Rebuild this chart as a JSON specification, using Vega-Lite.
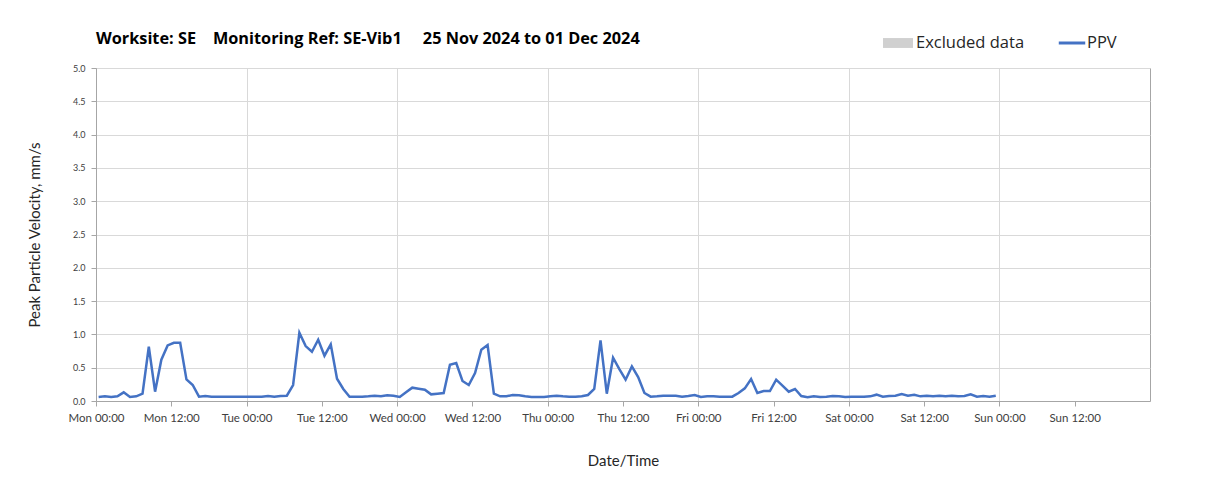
{
  "$schema": "https://vega.github.io/schema/vega-lite/v6.json",
  "autosize": {"type": "none"},
  "width": 1054,
  "height": 333,
  "padding": {"left": 96, "top": 68, "right": 58, "bottom": 91},
  "background": "white",
  "title": {
    "text": "Worksite: SE\u00a0\u00a0\u00a0\u00a0Monitoring Ref: SE-Vib1\u00a0\u00a0\u00a0\u00a0\u00a025 Nov 2024 to 01 Dec 2024",
    "anchor": "start",
    "frame": "group",
    "offset": -19,
    "font": "Open Sans",
    "fontSize": 16.3,
    "fontWeight": "bold",
    "color": "#000000"
  },
  "config": {
    "view": {"stroke": "#a6a6a6", "strokeWidth": 1},
    "axis": {
      "labelFont": "Lato",
      "titleFont": "Lato",
      "labelColor": "#404040",
      "titleColor": "#262626",
      "titleFontWeight": "normal",
      "gridColor": "#d9d9d9",
      "domainColor": "#a6a6a6",
      "tickColor": "#a6a6a6"
    },
    "legend": {"labelFont": "Open Sans", "labelFontSize": 16.5, "labelColor": "#262626"}
  },
  "layer": [
    {
      "data": {"values": []},
      "mark": {"type": "rect"},
      "encoding": {
        "fill": {
          "datum": "Excluded data",
          "type": "nominal",
          "scale": {"domain": ["Excluded data"], "range": ["#d0d0d0"]},
          "legend": {
            "title": null,
            "orient": "none",
            "legendX": 787,
            "legendY": -40,
            "symbolType": "M-1,-0.33H1V0.33H-1Z",
            "symbolSize": 900,
            "symbolStrokeWidth": 0,
            "labelOffset": 3
          }
        }
      }
    },
    {
      "data": {
        "values": [
          {"t": "2024-11-25T00:25:00Z", "v": 0.06},
          {"t": "2024-11-25T01:25:00Z", "v": 0.07},
          {"t": "2024-11-25T02:25:00Z", "v": 0.06},
          {"t": "2024-11-25T03:25:00Z", "v": 0.07},
          {"t": "2024-11-25T04:25:00Z", "v": 0.13},
          {"t": "2024-11-25T05:25:00Z", "v": 0.06},
          {"t": "2024-11-25T06:25:00Z", "v": 0.07},
          {"t": "2024-11-25T07:25:00Z", "v": 0.11},
          {"t": "2024-11-25T08:25:00Z", "v": 0.815},
          {"t": "2024-11-25T09:25:00Z", "v": 0.14},
          {"t": "2024-11-25T10:25:00Z", "v": 0.62},
          {"t": "2024-11-25T11:25:00Z", "v": 0.835},
          {"t": "2024-11-25T12:25:00Z", "v": 0.875},
          {"t": "2024-11-25T13:25:00Z", "v": 0.875},
          {"t": "2024-11-25T14:25:00Z", "v": 0.325},
          {"t": "2024-11-25T15:25:00Z", "v": 0.24},
          {"t": "2024-11-25T16:25:00Z", "v": 0.065},
          {"t": "2024-11-25T17:25:00Z", "v": 0.075},
          {"t": "2024-11-25T18:25:00Z", "v": 0.065},
          {"t": "2024-11-25T19:25:00Z", "v": 0.065},
          {"t": "2024-11-25T20:25:00Z", "v": 0.065},
          {"t": "2024-11-25T21:25:00Z", "v": 0.065},
          {"t": "2024-11-25T22:25:00Z", "v": 0.065},
          {"t": "2024-11-25T23:25:00Z", "v": 0.065},
          {"t": "2024-11-26T00:25:00Z", "v": 0.065},
          {"t": "2024-11-26T01:25:00Z", "v": 0.065},
          {"t": "2024-11-26T02:25:00Z", "v": 0.065},
          {"t": "2024-11-26T03:25:00Z", "v": 0.075},
          {"t": "2024-11-26T04:25:00Z", "v": 0.065},
          {"t": "2024-11-26T05:25:00Z", "v": 0.075},
          {"t": "2024-11-26T06:25:00Z", "v": 0.08},
          {"t": "2024-11-26T07:25:00Z", "v": 0.24},
          {"t": "2024-11-26T08:25:00Z", "v": 1.025},
          {"t": "2024-11-26T09:25:00Z", "v": 0.825},
          {"t": "2024-11-26T10:25:00Z", "v": 0.74},
          {"t": "2024-11-26T11:25:00Z", "v": 0.92},
          {"t": "2024-11-26T12:25:00Z", "v": 0.68},
          {"t": "2024-11-26T13:25:00Z", "v": 0.85},
          {"t": "2024-11-26T14:25:00Z", "v": 0.335},
          {"t": "2024-11-26T15:25:00Z", "v": 0.18},
          {"t": "2024-11-26T16:25:00Z", "v": 0.065},
          {"t": "2024-11-26T17:25:00Z", "v": 0.065},
          {"t": "2024-11-26T18:25:00Z", "v": 0.065},
          {"t": "2024-11-26T19:25:00Z", "v": 0.07},
          {"t": "2024-11-26T20:25:00Z", "v": 0.08},
          {"t": "2024-11-26T21:25:00Z", "v": 0.07},
          {"t": "2024-11-26T22:25:00Z", "v": 0.085},
          {"t": "2024-11-26T23:25:00Z", "v": 0.08},
          {"t": "2024-11-27T00:25:00Z", "v": 0.06},
          {"t": "2024-11-27T01:25:00Z", "v": 0.13},
          {"t": "2024-11-27T02:25:00Z", "v": 0.2},
          {"t": "2024-11-27T03:25:00Z", "v": 0.185},
          {"t": "2024-11-27T04:25:00Z", "v": 0.17},
          {"t": "2024-11-27T05:25:00Z", "v": 0.1},
          {"t": "2024-11-27T06:25:00Z", "v": 0.11},
          {"t": "2024-11-27T07:25:00Z", "v": 0.12},
          {"t": "2024-11-27T08:25:00Z", "v": 0.545},
          {"t": "2024-11-27T09:25:00Z", "v": 0.57},
          {"t": "2024-11-27T10:25:00Z", "v": 0.3},
          {"t": "2024-11-27T11:25:00Z", "v": 0.24},
          {"t": "2024-11-27T12:25:00Z", "v": 0.42},
          {"t": "2024-11-27T13:25:00Z", "v": 0.77},
          {"t": "2024-11-27T14:25:00Z", "v": 0.84},
          {"t": "2024-11-27T15:25:00Z", "v": 0.11},
          {"t": "2024-11-27T16:25:00Z", "v": 0.07},
          {"t": "2024-11-27T17:25:00Z", "v": 0.07},
          {"t": "2024-11-27T18:25:00Z", "v": 0.09},
          {"t": "2024-11-27T19:25:00Z", "v": 0.085},
          {"t": "2024-11-27T20:25:00Z", "v": 0.07},
          {"t": "2024-11-27T21:25:00Z", "v": 0.06},
          {"t": "2024-11-27T22:25:00Z", "v": 0.06},
          {"t": "2024-11-27T23:25:00Z", "v": 0.06},
          {"t": "2024-11-28T00:25:00Z", "v": 0.07},
          {"t": "2024-11-28T01:25:00Z", "v": 0.08},
          {"t": "2024-11-28T02:25:00Z", "v": 0.07},
          {"t": "2024-11-28T03:25:00Z", "v": 0.065},
          {"t": "2024-11-28T04:25:00Z", "v": 0.065},
          {"t": "2024-11-28T05:25:00Z", "v": 0.07},
          {"t": "2024-11-28T06:25:00Z", "v": 0.09},
          {"t": "2024-11-28T07:25:00Z", "v": 0.18},
          {"t": "2024-11-28T08:25:00Z", "v": 0.91},
          {"t": "2024-11-28T09:25:00Z", "v": 0.11},
          {"t": "2024-11-28T10:25:00Z", "v": 0.65},
          {"t": "2024-11-28T11:25:00Z", "v": 0.48},
          {"t": "2024-11-28T12:25:00Z", "v": 0.32},
          {"t": "2024-11-28T13:25:00Z", "v": 0.52},
          {"t": "2024-11-28T14:25:00Z", "v": 0.36},
          {"t": "2024-11-28T15:25:00Z", "v": 0.12},
          {"t": "2024-11-28T16:25:00Z", "v": 0.065},
          {"t": "2024-11-28T17:25:00Z", "v": 0.07},
          {"t": "2024-11-28T18:25:00Z", "v": 0.08},
          {"t": "2024-11-28T19:25:00Z", "v": 0.08},
          {"t": "2024-11-28T20:25:00Z", "v": 0.08},
          {"t": "2024-11-28T21:25:00Z", "v": 0.065},
          {"t": "2024-11-28T22:25:00Z", "v": 0.075},
          {"t": "2024-11-28T23:25:00Z", "v": 0.09},
          {"t": "2024-11-29T00:25:00Z", "v": 0.06},
          {"t": "2024-11-29T01:25:00Z", "v": 0.07},
          {"t": "2024-11-29T02:25:00Z", "v": 0.07},
          {"t": "2024-11-29T03:25:00Z", "v": 0.065},
          {"t": "2024-11-29T04:25:00Z", "v": 0.065},
          {"t": "2024-11-29T05:25:00Z", "v": 0.065},
          {"t": "2024-11-29T06:25:00Z", "v": 0.12},
          {"t": "2024-11-29T07:25:00Z", "v": 0.19},
          {"t": "2024-11-29T08:25:00Z", "v": 0.33},
          {"t": "2024-11-29T09:25:00Z", "v": 0.12},
          {"t": "2024-11-29T10:25:00Z", "v": 0.15},
          {"t": "2024-11-29T11:25:00Z", "v": 0.15},
          {"t": "2024-11-29T12:25:00Z", "v": 0.32},
          {"t": "2024-11-29T13:25:00Z", "v": 0.23},
          {"t": "2024-11-29T14:25:00Z", "v": 0.14},
          {"t": "2024-11-29T15:25:00Z", "v": 0.18},
          {"t": "2024-11-29T16:25:00Z", "v": 0.075},
          {"t": "2024-11-29T17:25:00Z", "v": 0.055},
          {"t": "2024-11-29T18:25:00Z", "v": 0.07},
          {"t": "2024-11-29T19:25:00Z", "v": 0.06},
          {"t": "2024-11-29T20:25:00Z", "v": 0.065},
          {"t": "2024-11-29T21:25:00Z", "v": 0.075},
          {"t": "2024-11-29T22:25:00Z", "v": 0.07},
          {"t": "2024-11-29T23:25:00Z", "v": 0.06},
          {"t": "2024-11-30T00:25:00Z", "v": 0.065},
          {"t": "2024-11-30T01:25:00Z", "v": 0.065},
          {"t": "2024-11-30T02:25:00Z", "v": 0.065},
          {"t": "2024-11-30T03:25:00Z", "v": 0.07},
          {"t": "2024-11-30T04:25:00Z", "v": 0.095},
          {"t": "2024-11-30T05:25:00Z", "v": 0.065},
          {"t": "2024-11-30T06:25:00Z", "v": 0.075},
          {"t": "2024-11-30T07:25:00Z", "v": 0.08},
          {"t": "2024-11-30T08:25:00Z", "v": 0.105},
          {"t": "2024-11-30T09:25:00Z", "v": 0.08},
          {"t": "2024-11-30T10:25:00Z", "v": 0.095},
          {"t": "2024-11-30T11:25:00Z", "v": 0.07},
          {"t": "2024-11-30T12:25:00Z", "v": 0.08},
          {"t": "2024-11-30T13:25:00Z", "v": 0.07},
          {"t": "2024-11-30T14:25:00Z", "v": 0.08},
          {"t": "2024-11-30T15:25:00Z", "v": 0.07},
          {"t": "2024-11-30T16:25:00Z", "v": 0.08},
          {"t": "2024-11-30T17:25:00Z", "v": 0.07},
          {"t": "2024-11-30T18:25:00Z", "v": 0.075},
          {"t": "2024-11-30T19:25:00Z", "v": 0.1},
          {"t": "2024-11-30T20:25:00Z", "v": 0.065},
          {"t": "2024-11-30T21:25:00Z", "v": 0.075},
          {"t": "2024-11-30T22:25:00Z", "v": 0.065},
          {"t": "2024-11-30T23:25:00Z", "v": 0.08}
        ]
      },
      "mark": {"type": "line", "strokeWidth": 2.5, "interpolate": "linear"},
      "encoding": {
        "x": {
          "field": "t",
          "type": "temporal",
          "scale": {
            "type": "utc",
            "domain": [
              {"year": 2024, "month": 11, "date": 25, "hours": 0, "utc": true},
              {"year": 2024, "month": 12, "date": 2, "hours": 0, "utc": true}
            ]
          },
          "axis": {
            "title": "Date/Time",
            "titleFontSize": 15,
            "titlePadding": 30,
            "labelFontSize": 11.5,
            "labelPadding": 6,
            "labelExpr": "utcFormat(datum.value, '%a %H:%M')",
            "tickSize": 5,
            "labelFlush": false,
            "values": [
              {"year": 2024, "month": 11, "date": 25, "hours": 0, "utc": true},
              {"year": 2024, "month": 11, "date": 25, "hours": 12, "utc": true},
              {"year": 2024, "month": 11, "date": 26, "hours": 0, "utc": true},
              {"year": 2024, "month": 11, "date": 26, "hours": 12, "utc": true},
              {"year": 2024, "month": 11, "date": 27, "hours": 0, "utc": true},
              {"year": 2024, "month": 11, "date": 27, "hours": 12, "utc": true},
              {"year": 2024, "month": 11, "date": 28, "hours": 0, "utc": true},
              {"year": 2024, "month": 11, "date": 28, "hours": 12, "utc": true},
              {"year": 2024, "month": 11, "date": 29, "hours": 0, "utc": true},
              {"year": 2024, "month": 11, "date": 29, "hours": 12, "utc": true},
              {"year": 2024, "month": 11, "date": 30, "hours": 0, "utc": true},
              {"year": 2024, "month": 11, "date": 30, "hours": 12, "utc": true},
              {"year": 2024, "month": 12, "date": 1, "hours": 0, "utc": true},
              {"year": 2024, "month": 12, "date": 1, "hours": 12, "utc": true}
            ],
            "gridColor": {"condition": {"test": "utchours(datum.value) === 0", "value": "#d9d9d9"}, "value": "transparent"}
          }
        },
        "y": {
          "field": "v",
          "type": "quantitative",
          "scale": {"domain": [0, 5], "nice": false},
          "axis": {
            "title": "Peak Particle Velocity, mm/s",
            "titleFontSize": 15,
            "titlePadding": 30,
            "labelFontSize": 9,
            "labelPadding": 6,
            "format": ".1f",
            "values": [0, 0.5, 1, 1.5, 2, 2.5, 3, 3.5, 4, 4.5, 5],
            "tickSize": 5
          }
        },
        "stroke": {
          "datum": "PPV",
          "type": "nominal",
          "scale": {"domain": ["PPV"], "range": ["#4472c4"]},
          "legend": {
            "title": null,
            "orient": "none",
            "legendX": 961,
            "legendY": -40,
            "symbolType": "stroke",
            "symbolSize": 700,
            "symbolStrokeWidth": 3,
            "labelOffset": 0
          }
        }
      }
    }
  ]
}
